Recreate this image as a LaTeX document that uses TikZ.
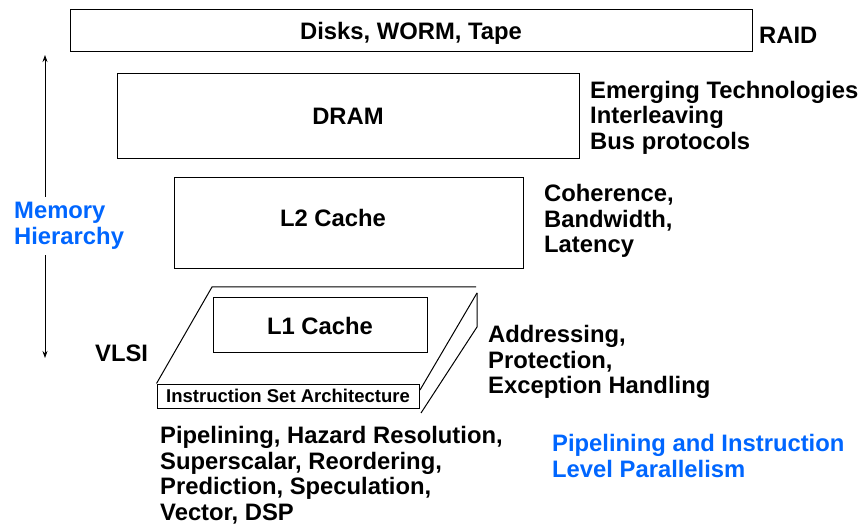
\documentclass[tikz,border=0pt]{standalone}
\usepackage{fontspec}
\setmainfont{Liberation Sans}
\usetikzlibrary{arrows.meta}
\definecolor{hierblue}{RGB}{0,102,255}

\begin{document}
\begin{tikzpicture}[x=1pt,y=-1pt,
  box/.style={draw,line width=1pt,inner sep=0pt,font=\bfseries\fontsize{23.8}{25.5}\selectfont},
  lbl/.style={anchor=west,align=left,inner sep=0pt,font=\bfseries\fontsize{23.8}{25.5}\selectfont},
  bluelbl/.style={lbl,text=hierblue}]
\useasboundingbox (0,0) rectangle (865,529);
% levels of the hierarchy
\node[box,minimum width=682pt,minimum height=42pt,text depth=-3pt] (disk) at (411,31) {Disks, WORM, Tape};
\node[box,minimum width=462pt,minimum height=85pt] (dram) at (348,116.5) {DRAM};
\node[box,minimum width=349pt,minimum height=91pt] (ltwo) at (348.5,223.5) {};
\node[lbl,anchor=center] (ltwotext) at (333,218) {L2 Cache};
\node[box,minimum width=214pt,minimum height=55pt,text depth=-3pt] (lone) at (320,325.5) {L1 Cache};
\node[box,minimum width=262pt,minimum height=24pt,font=\bfseries\fontsize{18.5}{20}\selectfont] (isa) at (288,396) {Instruction Set Architecture};
% the slab under L1
\draw[line width=1pt] (isa.north west) -- (212,287) -- (476,287);
\draw[line width=1pt] (477,293) -- (420,390);
\draw[line width=1pt] (477,293) -- (477,327) -- (421,413);
% side notes
\node[lbl] (raid) at (759,35) {RAID};
\node[lbl] (dramnote) at (590,117.5) {Emerging Technologies\\Interleaving\\Bus protocols};
\node[lbl] (ltwonote) at (544,221) {Coherence,\\Bandwidth,\\Latency};
\node[lbl] (vlsi) at (95,353) {VLSI};
\node[lbl] (isanote) at (488,362) {Addressing,\\Protection,\\Exception Handling};
\node[lbl] (pipenote) at (160,475) {Pipelining, Hazard Resolution,\\Superscalar, Reordering,\\Prediction, Speculation,\\Vector, DSP};
\node[bluelbl] (ilp) at (552,456) {Pipelining and Instruction\\Level Parallelism};
% memory hierarchy arrow
\coordinate (top) at (45,55);
\coordinate (bot) at (45,358);
\draw[{Stealth[length=7pt,width=5pt]}-{Stealth[length=7pt,width=5pt]},line width=0.8pt] (top) -- (bot);
\node[bluelbl,fill=white,inner ysep=6pt] (memhier) at (14,226) {Memory\\Hierarchy};
\end{tikzpicture}
\end{document}
